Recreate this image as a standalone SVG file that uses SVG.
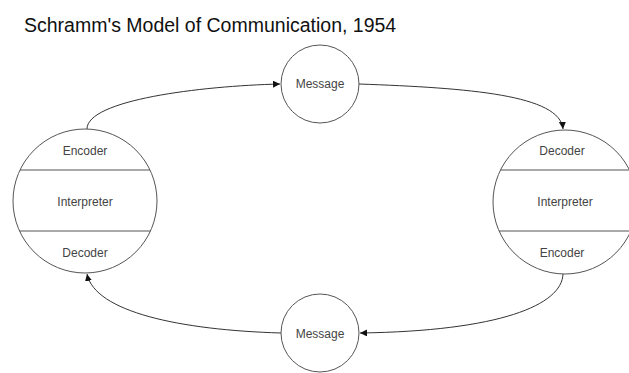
<svg xmlns="http://www.w3.org/2000/svg" width="629" height="373" viewBox="0 0 629 373">
<style>
.t{font-family:"Liberation Sans",Arial,sans-serif;font-size:12px;fill:#444;text-anchor:middle}
.c{fill:#fff;stroke:#555;stroke-width:1}
.d{stroke:#555;stroke-width:1}
.e{fill:none;stroke:#333;stroke-width:1}
</style>
<defs>
<marker id="ah" viewBox="0 0 10 10" refX="10" refY="5" markerWidth="7" markerHeight="7" markerUnits="userSpaceOnUse" orient="auto">
<path d="M0,0 L10,5 L0,10 z" fill="#111"/>
</marker>
</defs>
<rect width="629" height="373" fill="#fff"/>
<text x="24" y="32" font-family="'Liberation Sans',Arial,sans-serif" font-size="19.5" fill="#111">Schramm's Model of Communication, 1954</text>
<g id="connectors">
<path class="e" d="M87,129 C87,100 200,86 280,84" marker-end="url(#ah)"/>
<path class="e" d="M359,84 C470,88 560,95 563,129" marker-end="url(#ah)"/>
<path class="e" d="M563,274 C562,305 500,331 360,333" marker-end="url(#ah)"/>
<path class="e" d="M281,333 C180,330 95,312 87,274" marker-end="url(#ah)"/>
</g>
<g id="sender">
<circle class="c" cx="85" cy="201" r="72"/>
<line class="d" x1="20" y1="170" x2="150" y2="170"/>
<line class="d" x1="19.5" y1="231" x2="150.5" y2="231"/>
<text class="t" x="85" y="155">Encoder</text>
<text class="t" x="85" y="206">Interpreter</text>
<text class="t" x="85" y="257">Decoder</text>
</g>
<g id="receiver">
<circle class="c" cx="565" cy="202" r="72"/>
<line class="d" x1="500.5" y1="170" x2="629.5" y2="170"/>
<line class="d" x1="499" y1="231" x2="631" y2="231"/>
<text class="t" x="562" y="155">Decoder</text>
<text class="t" x="565" y="206">Interpreter</text>
<text class="t" x="562" y="257">Encoder</text>
</g>
<g id="message-top">
<circle class="c" cx="320" cy="84" r="39"/>
<text class="t" x="320" y="88">Message</text>
</g>
<g id="message-bottom">
<circle class="c" cx="320" cy="333" r="39"/>
<text class="t" x="320" y="338">Message</text>
</g>
</svg>
